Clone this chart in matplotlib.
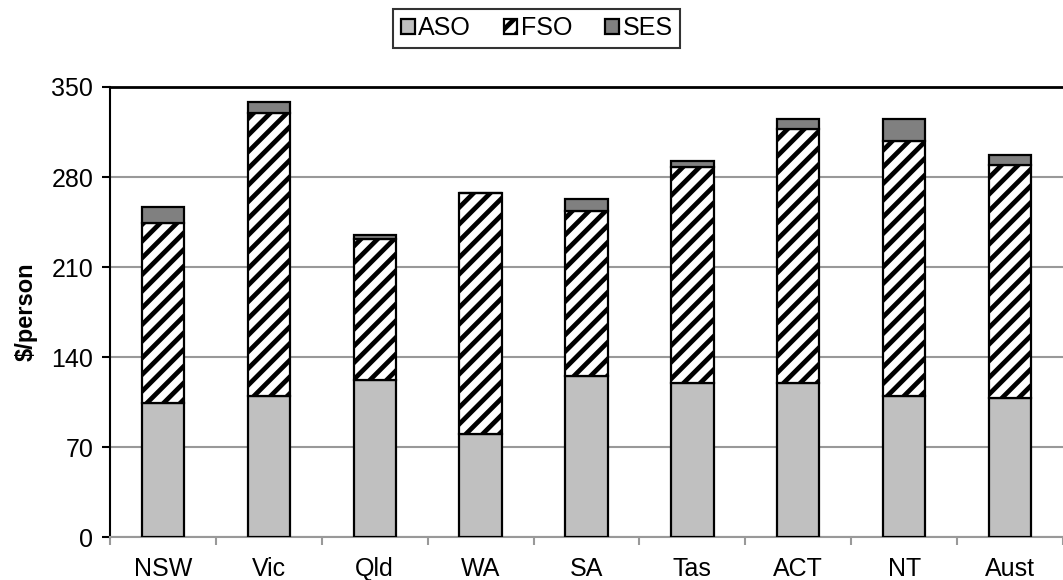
import numpy as np
import matplotlib
matplotlib.use('Agg')
import matplotlib.pyplot as plt

plt.rcParams['font.family'] = ['Liberation Sans', 'DejaVu Sans']
plt.rcParams['hatch.linewidth'] = 3.4

# Expenditure per person by jurisdiction, split by service type
regions = ['NSW', 'Vic', 'Qld', 'WA', 'SA', 'Tas', 'ACT', 'NT', 'Aust']
aso = [104, 110, 122, 80, 125.5, 119.5, 119.5, 110, 108.5]
fso = [140, 219.5, 110, 187.5, 128, 168, 197.5, 198, 180.5]
ses = [13, 9, 3, 0, 9.5, 5, 8, 17, 8]

x = np.arange(len(regions))
width = 0.4

fig, ax = plt.subplots(figsize=(10.63, 5.80), dpi=100)
fig.subplots_adjust(left=0.1035, right=1.0, top=0.85, bottom=0.074)

aso_bottom = np.zeros(len(regions))
fso_bottom = np.array(aso)
ses_bottom = fso_bottom + np.array(fso)

ax.bar(x, aso, width, bottom=aso_bottom, color='#c0c0c0', edgecolor='black',
       linewidth=1.6, label='ASO', zorder=3)
ax.bar(x, fso, width, bottom=fso_bottom, color='white', edgecolor='black',
       linewidth=1.6, hatch='//', label='FSO', zorder=3)
ax.bar(x, ses, width, bottom=ses_bottom, color='#808080', edgecolor='black',
       linewidth=1.6, label='SES', zorder=3)

ax.set_xlim(-0.5, len(regions) - 0.5)
ax.set_ylim(0, 350)
ax.set_yticks(np.arange(0, 351, 70))
ax.set_xticks(x)
ax.set_xticklabels(regions)
ax.set_xticks(np.arange(-0.5, len(regions), 1), minor=True)

ax.tick_params(axis='x', which='major', length=0, labelsize=18, pad=14)
ax.tick_params(axis='x', which='minor', length=6, color='#999999', width=1.5)
ax.tick_params(axis='y', length=6, width=1.5, labelsize=18, pad=6)

ax.grid(axis='y', color='#999999', linewidth=1.5, zorder=0)
ax.set_axisbelow(True)

ax.spines['right'].set_visible(False)
ax.spines['top'].set_color('black')
ax.spines['top'].set_linewidth(2)
ax.spines['left'].set_linewidth(1.5)
ax.spines['bottom'].set_color('#999999')
ax.spines['bottom'].set_linewidth(1.5)

ax.set_ylabel('$/person', fontsize=17, fontweight='bold', labelpad=10)

leg = fig.legend(loc='upper center', bbox_to_anchor=(0.505, 0.985), ncol=3,
                 fontsize=18, frameon=True, fancybox=False, edgecolor='black',
                 handlelength=0.55, handleheight=0.55, handletextpad=0.15,
                 columnspacing=1.3, borderpad=0.3, borderaxespad=0)
leg.get_frame().set_linewidth(1.5)

fig.savefig('out.png', dpi=100)
